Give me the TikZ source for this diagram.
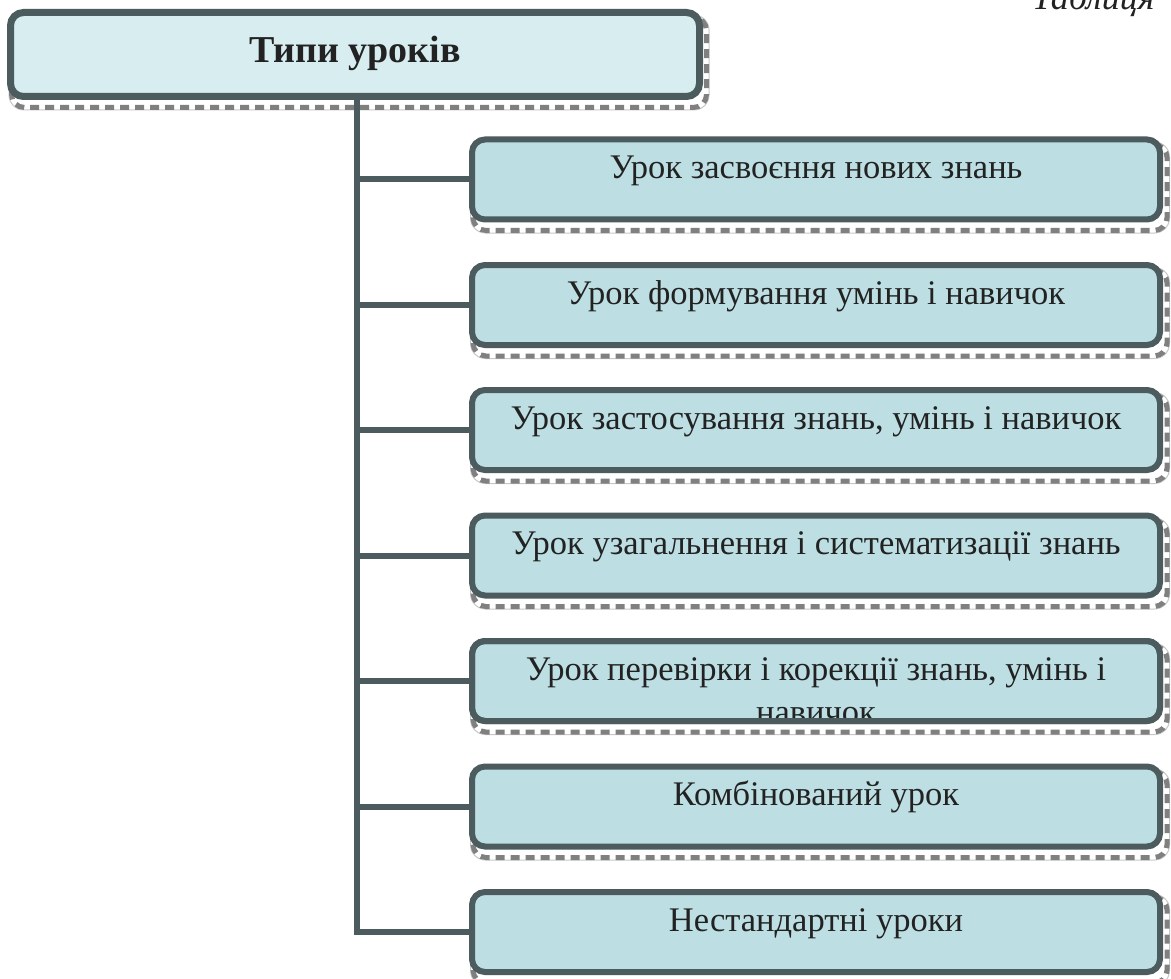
\documentclass[tikz,border=0pt]{standalone}
\usepackage{fontspec}
\setmainfont{Liberation Serif}
\definecolor{bord}{HTML}{4B5B5E}
\definecolor{titlefill}{HTML}{D8EDF0}
\definecolor{childfill}{HTML}{BDDFE3}
\definecolor{shad}{HTML}{808080}
\definecolor{shadedge}{HTML}{C8C8C8}
\definecolor{ink}{HTML}{222222}
\tikzset{
  boxbase/.style={rectangle, rounded corners=13pt, draw=bord, inner sep=0pt, outer sep=0pt},
  titlebox/.style={boxbase, line width=7pt, fill=titlefill, minimum width=689pt, minimum height=84pt},
  childbox/.style={boxbase, line width=6pt, fill=childfill, minimum width=688pt, minimum height=80pt},
  bordonly/.style={draw=bord, line width=6pt, rounded corners=13pt},
  shadowline/.style={draw=shad, line width=5pt, dash pattern=on 9pt off 6pt, rounded corners=13pt},
  shadowedge/.style={draw=shadedge, line width=1pt, rounded corners=15pt},
  conn/.style={draw=bord, line width=6pt, line join=miter},
  childtext/.style={anchor=base, inner sep=0pt, text=ink, font=\fontsize{34.5}{41}\selectfont},
  titletext/.style={anchor=base, inner sep=0pt, text=ink, font=\bfseries\fontsize{38}{45}\selectfont},
  captext/.style={anchor=base west, inner sep=0pt, text=ink, font=\itshape\fontsize{36}{42}\selectfont}
}
\newcommand{\shadowfor}[1]{%
  \draw[shadowedge] ([shift={(-1.5,2.5)}]#1.north west) rectangle ([shift={(9.5,13.5)}]#1.south east);
  \draw[shadowline] ([shift={(1,5)}]#1.north west) rectangle ([shift={(7,11)}]#1.south east);
}
\begin{document}
\begin{tikzpicture}[x=1pt,y=-1pt]
\useasboundingbox (0,0) rectangle (1171,979);
\fill[white] (0,0) rectangle (1171,979);

% caption (clipped at top, as in the reference)
\node[captext] (cap) at (1032,10) {Таблиця};

% node geometry
\path (355,54.5) node[titlebox, draw=none, fill=none] (title) {};
\foreach \i/\y in {1/179.5,2/305,3/430,4/555.5,5/681,6/806.5,7/932}{
  \path (816,\y) node[childbox, draw=none, fill=none] (b\i) {};
}

% shadows
\shadowfor{title}
\foreach \i in {1,...,7}{\shadowfor{b\i}}

% connectors
\coordinate (spine) at (357,97);
\draw[conn] (spine) |- (b7.west);
\foreach \i in {1,...,6}{\draw[conn] (spine |- b\i.west) -- (b\i.west);}

% boxes
\node[titlebox] (titleb) at (title) {};
\foreach \i in {1,...,7}{\node[childbox] (c\i) at (b\i) {};}

% texts
\node[titletext] (tt) at (355,63) {Типи уроків};
\node[childtext] (t1) at (816,178.5) {Урок засвоєння нових знань};
\node[childtext] (t2) at (816,304) {Урок формування умінь і навичок};
\node[childtext] (t3) at (816,429) {Урок застосування знань, умінь і навичок};
\node[childtext] (t4) at (816,554.5) {Урок узагальнення і систематизації знань};
\node[childtext] (t5) at (816,680) {Урок перевірки і корекції знань, умінь і};
\node[childtext] (t5b) at (816,723) {навичок};
\draw[bordonly] (b5.north west) rectangle (b5.south east);
\node[childtext] (t6) at (816,805.5) {Комбінований урок};
\node[childtext] (t7) at (816,931) {Нестандартні уроки};
\end{tikzpicture}
\end{document}
